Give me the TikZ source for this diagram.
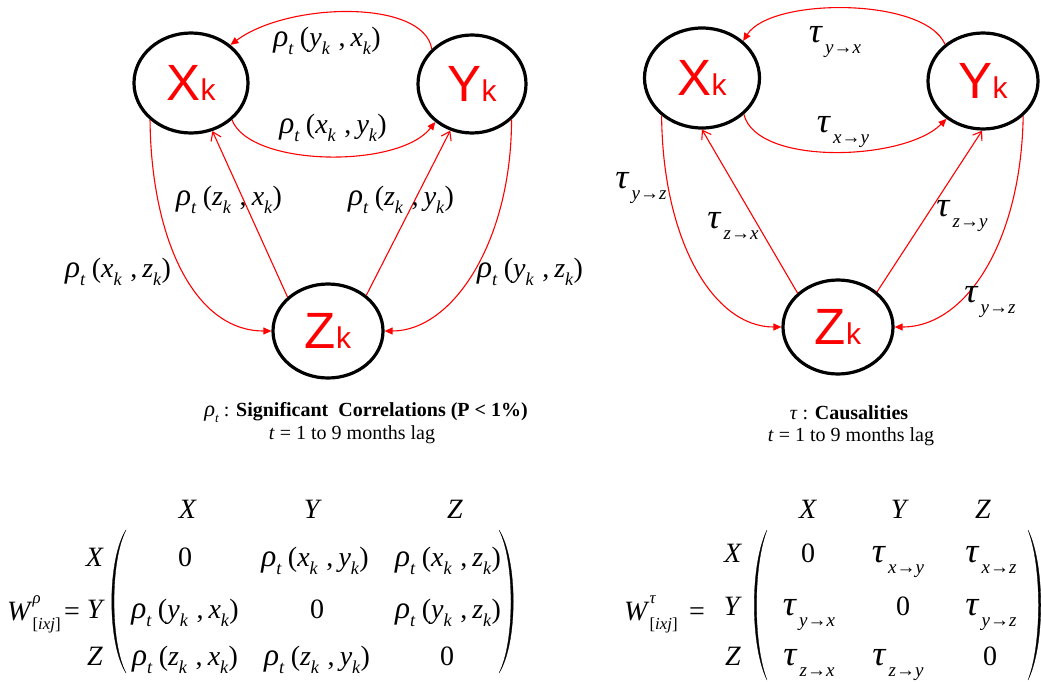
\documentclass[tikz,border=0pt]{standalone}
\usepackage[no-math]{fontspec}
\usepackage{graphicx}
\setmainfont{Liberation Serif}
\newfontfamily\arialfont{Liberation Sans}
\usetikzlibrary{arrows.meta,shapes.geometric}
\newcommand{\vtxt}[1]{{\fontsize{51}{51}\selectfont #1}{\fontsize{30}{30}\selectfont k}}
\newcommand{\lowsub}[1]{\raisebox{-0.3em}{\scalebox{0.65}{#1}}}
\newcommand{\myrho}{\scalebox{1.12}{\textit{ρ}}}
\newcommand{\mytau}{\scalebox{1.3}[1.25]{\textit{τ}}}
\newcommand{\corr}[2]{\myrho\lowsub{\textit{t}}\hspace{0.22em}(\textit{#1}\lowsub{\textit{k}}\hspace{0.3em},\hspace{0.18em}\textit{#2}\lowsub{\textit{k}})}
\newcommand{\caus}[2]{\mytau\hspace{0.08em}\raisebox{-0.42em}{\scalebox{0.68}{\textit{#1}→\textit{#2}}}}
\newcommand{\wmat}[1]{\textit{W}\makebox[0pt][l]{\raisebox{0.6em}{\scalebox{0.6}{\textit{#1}}}}\raisebox{-0.35em}{\scalebox{0.6}{[\textit{ixj}]}}}
\tikzset{
  vertex/.style={ellipse, draw, line width=3.2pt, inner sep=0pt, text=red, font=\arialfont},
  curvearrow/.style={red, line width=1.1pt, -{Triangle[length=8pt,width=7pt]}},
  linearrow/.style={red, line width=1.1pt, -{Straight Barb[length=8pt,width=11pt]}},
  edgelab/.style={font=\fontsize{28}{30}\selectfont, inner sep=0pt},
  captxt/.style={font=\fontsize{20}{24}\selectfont, inner sep=0pt},
  matel/.style={font=\fontsize{28}{32}\selectfont, inner sep=0pt, anchor=base},
  delim/.style={fill=black, draw=black, line width=0.3pt}
}
\begin{document}
\begin{tikzpicture}[x=1pt,y=-1pt]
\useasboundingbox (0,0) rectangle (1041,682);
% ---------------- left graph
\node[vertex, minimum width=114pt, minimum height=100pt] (XL) at (191,83) {\vtxt{X}};
\node[vertex, minimum width=108pt, minimum height=98pt] (YL) at (472,84) {\vtxt{Y}};
\node[vertex, minimum width=110pt, minimum height=94pt] (ZL) at (328,331) {\vtxt{Z}};
\draw[curvearrow] (YL.139) .. controls +(-8,-50) and +(58,-43) .. (XL.44);
\draw[curvearrow] (XL.-42) .. controls +(18,47) and +(-37,47) .. (YL.-134);
\draw[linearrow] (ZL.140) -- (XL.-66);
\draw[linearrow] (ZL.43) -- (YL.-115);
\draw[curvearrow] (XL.-138) .. controls +(1,117) and +(-78,0) .. (ZL.180);
\draw[curvearrow] (YL.-42) .. controls +(0,122) and +(68,0) .. (ZL.0);
\node[edgelab] (lyx) at (327,41) {\corr{y}{x}};
\node[edgelab] (lxy) at (333,128) {\corr{x}{y}};
\node[edgelab] (lzx) at (229,200) {\corr{z}{x}};
\node[edgelab] (lzy) at (401,200) {\corr{z}{y}};
\node[edgelab] (lxz) at (118,272) {\corr{x}{z}};
\node[edgelab] (lyz) at (530,272) {\corr{y}{z}};
% ---------------- right graph
\node[vertex, minimum width=115pt, minimum height=100pt] (XR) at (702,78) {\vtxt{X}};
\node[vertex, minimum width=110pt, minimum height=96pt] (YR) at (983,81) {\vtxt{Y}};
\node[vertex, minimum width=110pt, minimum height=94pt] (ZR) at (838,327) {\vtxt{Z}};
\draw[curvearrow] (YR.136) .. controls +(-20,-47) and +(28,-44) .. (XR.42);
\draw[curvearrow] (XR.-41) .. controls +(13,52) and +(-42,42) .. (YR.-134);
\draw[linearrow] (ZR.140) -- (XR.-90);
\draw[linearrow] (ZR.42) -- (YR.-91);
\draw[curvearrow] (XR.-137) .. controls +(1,125) and +(-68,0) .. (ZR.180);
\draw[curvearrow] (YR.-41) .. controls +(-2,125) and +(72,0) .. (ZR.0);
\node[edgelab] (tyx) at (835,42) {\caus{y}{x}};
\node[edgelab] (txy) at (843,132) {\caus{x}{y}};
\node[edgelab] (tyz1) at (641,188) {\caus{y}{z}};
\node[edgelab] (tzx) at (733,226) {\caus{z}{x}};
\node[edgelab] (tzy) at (962,216) {\caus{z}{y}};
\node[edgelab] (tyz2) at (990,302) {\caus{y}{z}};
% ---------------- captions
\node[captxt] (c1) at (366,413) {\myrho\lowsub{\textit{t}} : \textbf{Significant\ \ Correlations (P \textless{} 1\%)}};
\node[captxt] (c2) at (352,435) {\textit{t} = 1 to 9 months lag};
\node[captxt] (c3) at (849,413) {\textit{τ} : \textbf{Causalities}};
\node[captxt] (c4) at (851,437) {\textit{t} = 1 to 9 months lag};
% ---------------- left matrix
\node[matel, anchor=base west] (WL) at (7,620) {\wmat{ρ}};
\node[matel] (eqL) at (72,620) {=};
\node[matel] (rXL) at (95,566) {\textit{X}};
\node[matel] (rYL) at (96,618) {\textit{Y}};
\node[matel] (rZL) at (95,665) {\textit{Z}};
\node[matel] (cXL) at (188,518) {\textit{X}};
\node[matel] (cYL) at (313,518) {\textit{Y}};
\node[matel] (cZL) at (455,518) {\textit{Z}};
\node[matel] (m11) at (185,566) {0};
\node[matel] (m12) at (315,566) {\corr{x}{y}};
\node[matel] (m13) at (448,566) {\corr{x}{z}};
\node[matel] (m21) at (185,618) {\corr{y}{x}};
\node[matel] (m22) at (317,618) {0};
\node[matel] (m23) at (448,618) {\corr{y}{z}};
\node[matel] (m31) at (185,665) {\corr{z}{x}};
\node[matel] (m32) at (317,665) {\corr{z}{y}};
\node[matel] (m33) at (447,665) {0};
\fill[delim] (126,530) .. controls (107,560) and (107,643) .. (126,673)
   .. controls (110,643) and (110,560) .. cycle;
\fill[delim] (499,530) .. controls (518,560) and (518,643) .. (499,673)
   .. controls (515,643) and (515,560) .. cycle;
% ---------------- right matrix
\node[matel, anchor=base west] (WR) at (624,620) {\wmat{τ}};
\node[matel] (eqR) at (697,620) {=};
\node[matel] (rXR) at (733,562) {\textit{X}};
\node[matel] (rYR) at (733,615) {\textit{Y}};
\node[matel] (rZR) at (733,665) {\textit{Z}};
\node[matel] (cXR) at (808,518) {\textit{X}};
\node[matel] (cYR) at (900,518) {\textit{Y}};
\node[matel] (cZR) at (983,518) {\textit{Z}};
\node[matel] (n11) at (808,562) {0};
\node[matel] (n12) at (898,562) {\caus{x}{y}};
\node[matel] (n13) at (991,562) {\caus{x}{z}};
\node[matel] (n21) at (809,615) {\caus{y}{x}};
\node[matel] (n22) at (903,615) {0};
\node[matel] (n23) at (991,615) {\caus{y}{z}};
\node[matel] (n31) at (809,665) {\caus{z}{x}};
\node[matel] (n32) at (898,665) {\caus{z}{y}};
\node[matel] (n33) at (990,665) {0};
\fill[delim] (767,530) .. controls (750,565) and (750,645) .. (767,680)
   .. controls (753,645) and (753,565) .. cycle;
\fill[delim] (1028,530) .. controls (1045,565) and (1045,645) .. (1028,680)
   .. controls (1042,645) and (1042,565) .. cycle;
\end{tikzpicture}
\end{document}
